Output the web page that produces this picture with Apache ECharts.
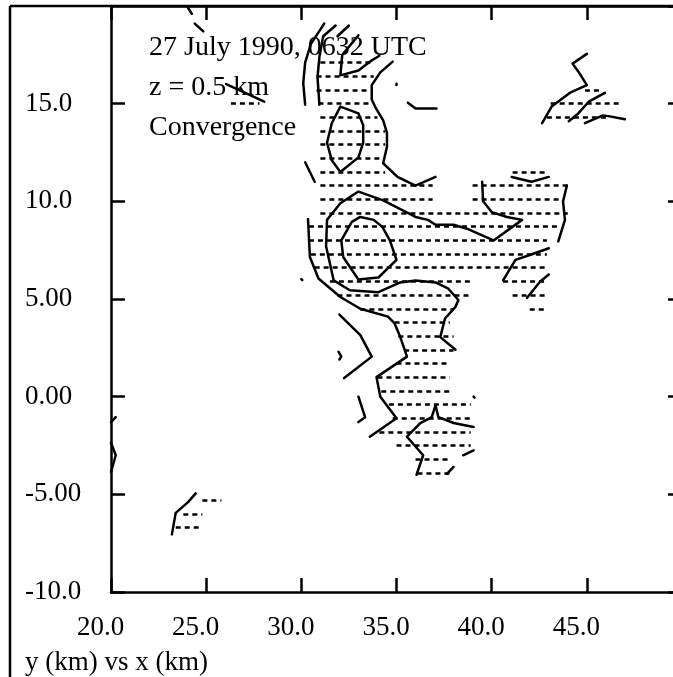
<!DOCTYPE html>
<html>
<head>
<meta charset="utf-8">
<script src="https://cdn.jsdelivr.net/npm/echarts@6/dist/echarts.min.js"></script>
<style>
html,body{margin:0;padding:0;background:#fff;}
#chart{width:673px;height:677px;}
</style>
</head>
<body>
<div id="chart"></div>
<script>
// ---- tick labels ----
const xTickValues = [20, 25, 30, 35, 40, 45];
const xTickLabels = ['20.0', '25.0', '30.0', '35.0', '40.0', '45.0'];
const yTickValues = [-10, -5, 0, 5, 10, 15];
const yTickLabels = ['-10.0', '-5.00', '0.00', '5.00', '10.0', '15.0'];

// ---- annotation text ----
const annotations = ['27 July 1990, 0632 UTC', 'z = 0.5 km', 'Convergence'];
const axisTitle = 'y (km) vs x (km)';

// ---- contour polylines (x km, y km) ----
const contourPaths = [
  [[31.2,19.1],[30.5,18.05],[30.2,17.1],[30.1,16.05],[30.2,14.95]],
  [[31.8,19.0],[31.15,18.45],[30.95,17.4],[30.85,16.35],[30.95,14.95]],
  [[31.9,18.45],[32.5,19.0]],
  [[33.0,18.5],[32.15,17.5],[32.05,16.45],[33.0,16.7],[33.6,17.15],[34.1,17.45]],
  [[34.8,17.15],[34.15,16.6],[33.7,15.95],[33.7,15.2],[33.9,14.8],[34.3,14.15],[34.5,13.5],[34.5,12.8],[34.3,11.95],[35.05,11.25],[36.0,10.8],[37.05,11.25]],
  [[35.0,16.02],[35.0,15.95]],
  [[35.6,15.05],[36.0,14.75],[37.1,14.75]],
  [[32.05,14.85],[33.0,14.5],[33.25,13.9],[33.25,13.0],[33.0,12.25],[32.05,11.5],[31.6,12.1],[31.35,13.0],[31.6,14.0],[32.05,14.85]],
  [[30.2,12.0],[30.7,11.0]],
  [[39.5,11.0],[39.55,10.0],[40.0,9.45],[40.8,9.2],[41.6,9.05],[40.1,8.0],[38.7,8.6],[38.0,8.8],[37.05,8.8],[36.65,9.05],[36.0,9.2],[34.3,10.05],[33.0,10.5],[32.05,9.9],[31.35,9.05],[31.3,7.7],[31.7,5.95],[32.55,5.45],[34.05,5.35],[35.2,5.85],[36.0,5.95],[37.05,5.85],[37.7,5.55],[38.25,4.95],[38.1,4.6],[37.55,4.0],[37.3,3.05],[38.1,2.4]],
  [[32.65,8.95],[33.1,9.2],[33.8,9.05],[34.25,8.7],[34.65,8.0],[35.0,7.0],[34.05,6.1],[33.0,6.0],[32.65,6.5],[32.2,7.15],[32.1,8.0],[32.65,8.95]],
  [[30.35,9.1],[30.45,7.15],[30.9,6.05],[32.05,5.1],[33.1,4.5],[34.55,4.1],[34.9,3.75],[35.2,3.05],[35.55,2.05],[33.95,1.0],[34.15,0.0],[35.0,-1.1],[33.6,-2.05]],
  [[32.0,4.2],[33.1,3.15],[33.7,2.05],[32.25,0.95]],
  [[31.95,2.3],[32.1,2.05],[32.0,1.9]],
  [[33.0,0.0],[33.35,-1.05],[33.0,-1.3]],
  [[37.05,-0.45],[36.85,-1.05],[36.25,-1.35],[35.55,-2.05],[36.4,-3.0],[36.05,-4.0]],
  [[37.05,-0.45],[37.2,-1.05],[38.0,-1.35],[39.05,-1.55]],
  [[38.5,-3.0],[39.05,-2.75]],
  [[37.65,-3.95],[38.0,-3.6]],
  [[39.05,0.0],[39.1,-0.05]],
  [[30.0,6.02],[30.05,5.97]],
  [[43.95,10.8],[43.75,10.0],[43.85,9.05],[43.5,7.95]],
  [[41.05,11.25],[42.1,11.0],[43.0,11.25]],
  [[40.6,5.95],[41.25,7.0],[42.0,7.25],[43.0,7.6]],
  [[41.85,5.05],[42.55,5.9],[43.0,6.25]],
  [[45.0,17.55],[44.25,17.05],[44.55,16.65],[45.0,15.95],[44.1,15.55],[43.15,14.85],[42.65,14.0]],
  [[45.95,15.55],[45.1,15.1],[44.55,14.5],[44.05,14.1]],
  [[44.9,14.0],[45.85,14.4],[46.2,14.35],[47.0,14.2]],
  [[20.0,-1.3],[20.25,-1.05]],
  [[20.0,-2.35],[20.25,-3.0],[20.0,-3.85]],
  [[24.45,-4.95],[24.05,-5.4],[23.4,-5.95],[23.2,-7.05]],
  [[24.05,19.9],[24.25,19.6]],
  [[24.4,19.1],[24.85,18.7]],
  [[26.05,16.0],[28.05,15.1]]
];

// ---- hatched (convergence) rows: [y, xStart, xEnd] ----
const hatchRows = [
  [17.1, 31.0, 33.8],
  [16.4, 30.8, 33.8],
  [15.7, 30.8, 33.5], [15.7, 44.9, 45.8],
  [15.0, 30.9, 33.7], [15.0, 26.3, 27.8], [15.0, 43.1, 46.7],
  [14.3, 31.0, 34.0], [14.3, 42.9, 46.1],
  [13.6, 31.0, 34.4],
  [12.9, 31.0, 34.4],
  [12.2, 31.0, 34.3],
  [11.5, 31.0, 34.4], [11.5, 41.1, 42.9],
  [10.8, 31.0, 36.9], [10.8, 39.0, 44.0],
  [10.1, 31.0, 36.9], [10.1, 39.0, 43.6],
  [9.4, 31.0, 44.0],
  [8.7, 30.4, 43.6],
  [8.0, 30.4, 42.9],
  [7.3, 30.5, 42.9],
  [6.6, 30.7, 42.9],
  [5.9, 31.5, 38.9], [5.9, 40.6, 42.9],
  [5.2, 31.9, 38.9], [5.2, 41.1, 42.9],
  [4.5, 33.1, 38.0], [4.5, 42.0, 42.9],
  [3.8, 34.9, 37.8],
  [3.1, 35.1, 38.0],
  [2.4, 35.4, 38.0],
  [1.7, 35.0, 37.8],
  [1.0, 34.0, 37.8],
  [0.3, 34.2, 37.8],
  [-0.4, 34.6, 38.9],
  [-1.1, 34.8, 38.9],
  [-1.8, 34.1, 38.9],
  [-2.5, 35.0, 38.9],
  [-3.2, 36.0, 37.8],
  [-3.9, 36.1, 37.8],
  [-5.3, 24.8, 25.8],
  [-6.0, 23.8, 24.8],
  [-6.7, 23.4, 24.8]
];

const FONT = '"Liberation Serif", "Times New Roman", serif';
const chart = echarts.init(document.getElementById('chart'), null, {renderer: 'canvas'});

function xFmt(v) { const i = xTickValues.indexOf(v); return i >= 0 ? xTickLabels[i] : ''; }
function yFmt(v) { const i = yTickValues.indexOf(v); return i >= 0 ? yTickLabels[i] : ''; }

const axisLineStyle = {color: '#000', width: 2.5};

const option = {
  animation: false,
  backgroundColor: '#fff',
  grid: {left: 111, top: 6, width: 571, height: 586, containLabel: false, outerBoundsMode: 'none'},
  xAxis: [
    {
      type: 'value', position: 'bottom', min: 20, max: 50, interval: 5,
      axisLine: {show: true, onZero: false, lineStyle: axisLineStyle},
      axisTick: {show: true, inside: true, length: 14, lineStyle: axisLineStyle},
      axisLabel: {show: true, formatter: xFmt, color: '#000', fontFamily: FONT, fontSize: 27,
                  margin: 22, padding: [0, 21, 0, 0], showMaxLabel: false},
      splitLine: {show: false}
    },
    {
      type: 'value', position: 'top', min: 20, max: 50, interval: 5,
      axisLine: {show: true, onZero: false, lineStyle: axisLineStyle},
      axisTick: {show: true, inside: true, length: 14, lineStyle: axisLineStyle},
      axisLabel: {show: false},
      splitLine: {show: false}
    }
  ],
  yAxis: [
    {
      type: 'value', position: 'left', min: -10, max: 20, interval: 5,
      axisLine: {show: true, onZero: false, lineStyle: axisLineStyle},
      axisTick: {show: true, inside: true, length: 14, lineStyle: axisLineStyle},
      axisLabel: {show: true, formatter: yFmt, color: '#000', fontFamily: FONT, fontSize: 27,
                  align: 'left', margin: 86, showMaxLabel: false},
      splitLine: {show: false}
    },
    {
      type: 'value', position: 'right', min: -10, max: 20, interval: 5,
      axisLine: {show: true, onZero: false, lineStyle: axisLineStyle},
      axisTick: {show: true, inside: true, length: 14, lineStyle: axisLineStyle},
      axisLabel: {show: false},
      splitLine: {show: false}
    }
  ],
  series: [
    {
      type: 'lines',
      coordinateSystem: 'cartesian2d',
      xAxisIndex: 0, yAxisIndex: 0,
      polyline: false,
      silent: true,
      lineStyle: {color: '#000', width: 2.5, type: [5, 4], opacity: 1},
      data: hatchRows.map(r => ({coords: [[r[1], r[0]], [r[2], r[0]]]}))
    },
    {
      type: 'lines',
      coordinateSystem: 'cartesian2d',
      xAxisIndex: 0, yAxisIndex: 0,
      polyline: true,
      silent: true,
      lineStyle: {color: '#000', width: 2.5, type: 'solid', opacity: 1, cap: 'round', join: 'round'},
      data: contourPaths.map(p => ({coords: p}))
    }
  ],
  graphic: [
    {type: 'line', shape: {x1: 10, y1: 6, x2: 10, y2: 677}, style: {stroke: '#000', lineWidth: 2.5}, silent: true},
    {type: 'line', shape: {x1: 10, y1: 6, x2: 673, y2: 6}, style: {stroke: '#000', lineWidth: 2.5}, silent: true},
    {type: 'text', left: 149, top: 34, style: {text: annotations[0], font: '28px ' + FONT, fill: '#000'}, silent: true},
    {type: 'text', left: 149, top: 74, style: {text: annotations[1], font: '28px ' + FONT, fill: '#000'}, silent: true},
    {type: 'text', left: 149, top: 114, style: {text: annotations[2], font: '28px ' + FONT, fill: '#000'}, silent: true},
    {type: 'text', left: 25, top: 649, style: {text: axisTitle, font: '27px ' + FONT, fill: '#000'}, silent: true}
  ]
};
chart.setOption(option);
</script>
</body>
</html>
